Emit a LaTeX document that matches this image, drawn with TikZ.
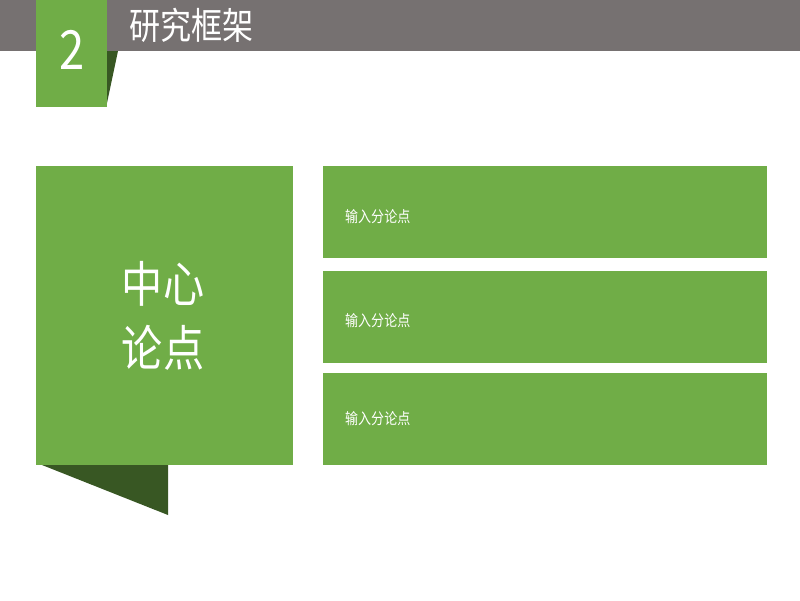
\documentclass[tikz,border=0pt]{standalone}
\usepackage{fontspec}
\newfontfamily\cjk[FakeStretch=0.84]{Noto Sans CJK SC}
\definecolor{leaf}{HTML}{70AD47}
\definecolor{darkleaf}{HTML}{385723}
\definecolor{bargray}{HTML}{767171}
\begin{document}
\begin{tikzpicture}[x=1pt,y=-1pt,
  box/.style={fill=leaf, draw=none, inner sep=0pt, anchor=north west},
  fold/.style={fill=darkleaf, draw=none},
  pointtext/.style={anchor=west, text=white, inner sep=0pt, font=\cjk\fontsize{15.5}{18}\selectfont}]
\useasboundingbox[fill=white] (0,0) rectangle (800,600);
% header bar
\fill[bargray] (0,0) rectangle (800,51);
\fill[fold] (107,51) -- (118,51) -- (107,103) -- cycle;
\node[box, minimum width=71pt, minimum height=107pt] (tab) at (36,0) {};
\node[text=white, inner sep=0pt, font=\cjk\fontsize{54}{54}\selectfont] (num) at (72,50) {2};
\node[anchor=west, text=white, inner sep=0pt, font=\cjk\fontsize{37}{40}\selectfont] (title) at (129,25) {研究框架};
% central box
\fill[fold] (42,465) -- (168,465) -- (168,515) -- cycle;
\node[box, minimum width=257pt, minimum height=299pt] (center) at (36,166) {};
\node[text=white, align=center, inner sep=0pt, font=\cjk\fontsize{49}{64}\selectfont] (centertext) at (163,316) {中心\\论点};
% sub boxes
\node[box, minimum width=444pt, minimum height=92pt] (b1) at (323,166) {};
\node[box, minimum width=444pt, minimum height=92pt] (b2) at (323,271) {};
\node[box, minimum width=444pt, minimum height=92pt] (b3) at (323,373) {};
\node[pointtext] (t1) at (345,217) {输入分论点};
\node[pointtext] (t2) at (345,321) {输入分论点};
\node[pointtext] (t3) at (345,419) {输入分论点};
\end{tikzpicture}
\end{document}
